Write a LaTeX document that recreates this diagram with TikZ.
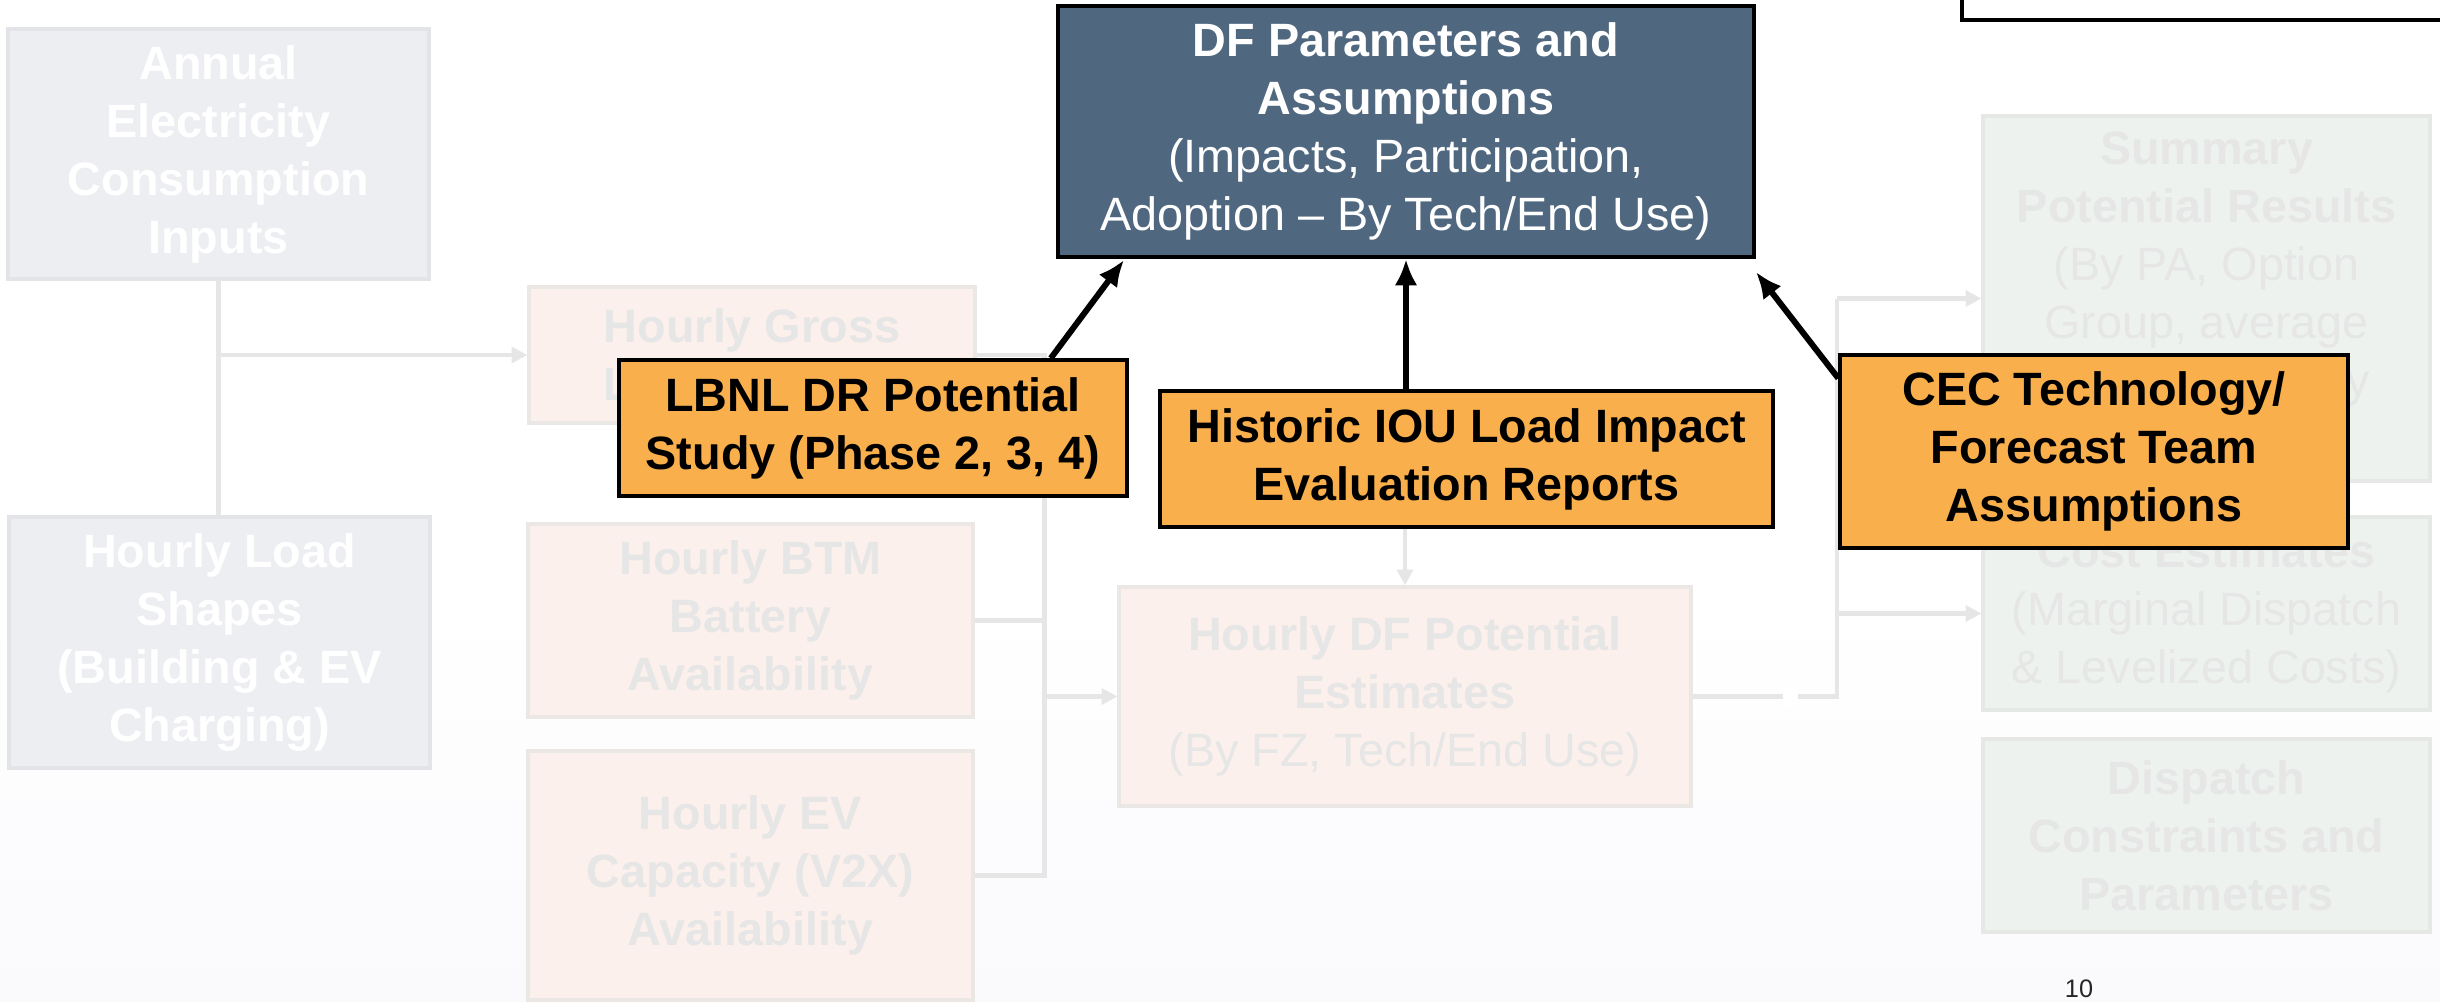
\documentclass[tikz,border=0pt]{standalone}
\usepackage{fontspec}
\setmainfont{Liberation Sans}
\usetikzlibrary{arrows.meta}

\definecolor{slate}{HTML}{4F6880}
\definecolor{amber}{HTML}{F9AF4C}
\definecolor{greyfill}{HTML}{EDEEF2}
\definecolor{greyline}{HTML}{E3E4E7}
\definecolor{peachfill}{HTML}{FBF0EB}
\definecolor{peachline}{HTML}{EBE7E5}
\definecolor{sagefill}{HTML}{EEF2EF}
\definecolor{sageline}{HTML}{E6E8E6}
\definecolor{fadetext}{HTML}{E6E6E6}
\definecolor{fadelink}{HTML}{E6E6E6}
\definecolor{bgtint}{HTML}{FAFAFD}

\begin{document}
\begin{tikzpicture}[
    box/.style={rectangle, inner sep=0pt, align=center, line width=0.9pt,
        font=\fontsize{13.3}{16.5}\selectfont},
    heavy/.style={font=\fontsize{13.3}{16.5}\selectfont\bfseries},
    greybox/.style={box, heavy, fill=greyfill, draw=greyline, text=white},
    peachbox/.style={box, fill=peachfill, draw=peachline, text=fadetext},
    sagebox/.style={box, fill=sagefill, draw=sageline, text=fadetext},
    source/.style={box, heavy, fill=amber, draw=black, line width=1pt},
    hub/.style={box, fill=slate, draw=black, line width=1.2pt, text=white},
    link/.style={draw=fadelink, line width=1.4pt},
    linkarrow/.style={link, -{Triangle[length=4.5pt,width=4.5pt]}},
    feed/.style={line width=1.7pt, -{Latex[length=7.5pt,width=6.5pt]}}
    ]
    \useasboundingbox (0,0) rectangle (24.40,10.01);
    \clip (0,0) rectangle (24.40,10.01);

    % Background:
    \shade[top color=white, bottom color=bgtint] (0,0) rectangle (24.40,4.0);

    % Faded flow in the back
    \node[greybox, minimum width=4.21cm, minimum height=2.50cm] (Annual) at (2.185,8.47)
        {Annual\\Electricity\\Consumption\\Inputs};
    \node[greybox, minimum width=4.21cm, minimum height=2.51cm] (LoadShapes) at (2.195,3.585)
        {Hourly Load\\Shapes\\(Building \& EV\\Charging)};
    \node[peachbox, heavy, minimum width=4.46cm, minimum height=1.36cm] (HGross) at (7.52,6.46)
        {Hourly Gross\\Load Profiles};
    \node[peachbox, heavy, minimum width=4.45cm, minimum height=1.93cm] (BTM) at (7.505,3.805)
        {Hourly BTM\\Battery\\Availability};
    \node[peachbox, heavy, minimum width=4.45cm, minimum height=2.49cm] (EV) at (7.505,1.255)
        {Hourly EV\\Capacity (V2X)\\Availability};
    \node[peachbox, minimum width=5.72cm, minimum height=2.19cm] (DFpot) at (14.05,3.045)
        {\textbf{Hourly DF Potential}\\\textbf{Estimates}\\(By FZ, Tech/End Use)};
    \node[sagebox, minimum width=4.47cm, minimum height=3.65cm] (Summary) at (22.065,7.025)
        {\textbf{Summary}\\\textbf{Potential Results}\\(By PA, Option\\Group, average\\seasonal hourly\\profiles)};
    \node[sagebox, minimum width=4.47cm, minimum height=1.93cm] (Cost) at (22.065,3.875)
        {\textbf{Cost Estimates}\\(Marginal Dispatch\\\& Levelized Costs)};
    \node[sagebox, heavy, minimum width=4.47cm, minimum height=1.93cm] (Dispatch) at (22.065,1.655)
        {Dispatch\\Constraints and\\Parameters};

    % Faded connectors
    \coordinate (busL) at (10.445,6.46);
    \coordinate (busR) at (18.37,3.045);
    \draw[link] (Annual.south) -- (Annual.south |- LoadShapes.north);
    \draw[linkarrow] (Annual.south |- HGross.west) -- (HGross.west);
    \draw[link] (HGross.east) -- (busL) -- (busL |- EV.east) -- (EV.east);
    \foreach \src in {BTM}
        \draw[link] (\src.east) -- (\src.east -| busL);
    \draw[linkarrow] (busL |- DFpot.west) -- (DFpot.west);
    \draw[linkarrow] (DFpot.north |- 0,5.27) -- (DFpot.north);
    \draw[link] (DFpot.east) -- (busR) -- (busR |- Summary.west);
    \foreach \dst in {Summary, Cost}
        \draw[linkarrow] (busR |- \dst.west) -- (\dst.west);
    \fill[white] (17.83,2.95) rectangle (17.98,3.14);

    % Frame cut off at the top right
    \node[box, draw=black, fill=white, line width=1pt, minimum width=5cm,
        minimum height=0.6cm, anchor=south west] (frame) at (19.60,9.79) {};

    % Inputs to the DF parameters
    \node[hub, minimum width=6.96cm, minimum height=2.51cm] (DF) at (14.06,8.695)
        {\textbf{DF Parameters and}\\\textbf{Assumptions}\\(Impacts, Participation,\\Adoption -- By Tech/End Use)};
    \node[source, minimum width=5.08cm, minimum height=1.36cm] (LBNL) at (8.73,5.73)
        {LBNL DR Potential\\Study (Phase 2, 3, 4)};
    \node[source, minimum width=6.13cm, minimum height=1.36cm] (Historic) at (14.665,5.42)
        {Historic IOU Load Impact\\Evaluation Reports};
    \node[source, minimum width=5.08cm, minimum height=1.93cm] (CEC) at (20.94,5.495)
        {CEC Technology/\\Forecast Team\\Assumptions};

    \coordinate (tipL) at (11.24,7.41);
    \coordinate (tipC) at (17.56,7.29);
    \draw[feed] ([xshift=-0.78cm]LBNL.north east) -- (tipL);
    \draw[feed] (Historic.north -| DF.south) -- (DF.south);
    \draw[feed] ([yshift=-0.25cm]CEC.north west) -- (tipC);

    % Page number
    \node[font=\fontsize{7.2}{8}\selectfont, text=black!85, anchor=base] (pageno) at (20.79,0.04) {10};
\end{tikzpicture}
\end{document}
